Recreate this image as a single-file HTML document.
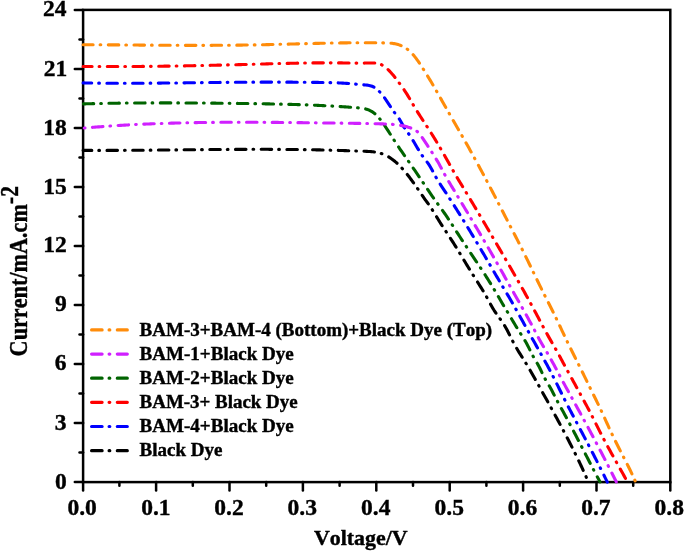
<!DOCTYPE html>
<html><head><meta charset="utf-8"><style>
html,body{margin:0;padding:0;background:#fff;}
body{width:685px;height:551px;position:relative;overflow:hidden;}
</style></head><body>
<svg width="685" height="551" viewBox="0 0 685 551" style="position:absolute;left:0;top:0"><g stroke="#000" stroke-width="2.5" fill="none"><rect x="83.1" y="9.9" width="587.20" height="472.20"/></g><g stroke="#000" stroke-width="2.5" fill="none" stroke-linecap="round"><line x1="74.80" y1="482.10" x2="83.1" y2="482.10"/><line x1="74.80" y1="423.08" x2="83.1" y2="423.08"/><line x1="74.80" y1="364.05" x2="83.1" y2="364.05"/><line x1="74.80" y1="305.02" x2="83.1" y2="305.02"/><line x1="74.80" y1="246.00" x2="83.1" y2="246.00"/><line x1="74.80" y1="186.97" x2="83.1" y2="186.97"/><line x1="74.80" y1="127.95" x2="83.1" y2="127.95"/><line x1="74.80" y1="68.93" x2="83.1" y2="68.93"/><line x1="74.80" y1="9.90" x2="83.1" y2="9.90"/><line x1="79.50" y1="452.59" x2="83.1" y2="452.59"/><line x1="79.50" y1="393.56" x2="83.1" y2="393.56"/><line x1="79.50" y1="334.54" x2="83.1" y2="334.54"/><line x1="79.50" y1="275.51" x2="83.1" y2="275.51"/><line x1="79.50" y1="216.49" x2="83.1" y2="216.49"/><line x1="79.50" y1="157.46" x2="83.1" y2="157.46"/><line x1="79.50" y1="98.44" x2="83.1" y2="98.44"/><line x1="79.50" y1="39.41" x2="83.1" y2="39.41"/><line x1="83.10" y1="482.1" x2="83.10" y2="490.40"/><line x1="156.10" y1="482.1" x2="156.10" y2="490.40"/><line x1="229.50" y1="482.1" x2="229.50" y2="490.40"/><line x1="302.90" y1="482.1" x2="302.90" y2="490.40"/><line x1="376.30" y1="482.1" x2="376.30" y2="490.40"/><line x1="449.70" y1="482.1" x2="449.70" y2="490.40"/><line x1="523.10" y1="482.1" x2="523.10" y2="490.40"/><line x1="596.50" y1="482.1" x2="596.50" y2="490.40"/><line x1="670.30" y1="482.1" x2="670.30" y2="490.40"/><line x1="119.40" y1="482.1" x2="119.40" y2="485.70"/><line x1="192.80" y1="482.1" x2="192.80" y2="485.70"/><line x1="266.20" y1="482.1" x2="266.20" y2="485.70"/><line x1="339.60" y1="482.1" x2="339.60" y2="485.70"/><line x1="413.00" y1="482.1" x2="413.00" y2="485.70"/><line x1="486.40" y1="482.1" x2="486.40" y2="485.70"/><line x1="559.80" y1="482.1" x2="559.80" y2="485.70"/><line x1="633.20" y1="482.1" x2="633.20" y2="485.70"/></g><g fill="none" stroke-width="3.1" stroke-linecap="round" stroke-linejoin="round" stroke-dasharray="10.5 7.0 0.7 7.5"><path stroke="#FF8C0A" stroke-dashoffset="0.5" d="M83.10,44.69 L84.10,44.69 L85.10,44.70 L86.10,44.70 L87.10,44.71 L88.10,44.71 L89.10,44.72 L90.10,44.73 L91.10,44.73 L92.10,44.74 L93.10,44.74 L94.10,44.75 L95.10,44.75 L96.10,44.76 L97.10,44.77 L98.10,44.77 L99.10,44.78 L100.10,44.79 L101.10,44.79 L102.10,44.80 L103.10,44.81 L104.10,44.81 L105.10,44.82 L106.10,44.83 L107.10,44.83 L108.10,44.84 L109.10,44.85 L110.10,44.86 L111.10,44.86 L112.10,44.87 L113.10,44.88 L114.10,44.89 L115.10,44.89 L116.10,44.90 L117.10,44.91 L118.10,44.92 L119.10,44.92 L120.10,44.93 L121.10,44.94 L122.10,44.95 L123.10,44.95 L124.10,44.96 L125.10,44.97 L126.10,44.98 L127.10,44.99 L128.10,44.99 L129.10,45.00 L130.10,45.01 L131.10,45.02 L132.10,45.02 L133.10,45.03 L134.10,45.04 L135.10,45.05 L136.10,45.06 L137.10,45.06 L138.10,45.07 L139.10,45.08 L140.10,45.09 L141.10,45.09 L142.10,45.10 L143.10,45.11 L144.10,45.12 L145.10,45.12 L146.10,45.13 L147.10,45.14 L148.10,45.14 L149.10,45.15 L150.10,45.16 L151.10,45.17 L152.10,45.17 L153.10,45.18 L154.10,45.19 L155.10,45.19 L156.10,45.20 L157.10,45.21 L158.10,45.21 L159.10,45.22 L160.10,45.22 L161.10,45.23 L162.10,45.24 L163.10,45.24 L164.10,45.25 L165.10,45.25 L166.10,45.26 L167.10,45.26 L168.10,45.27 L169.10,45.27 L170.10,45.28 L171.10,45.28 L172.10,45.29 L173.10,45.29 L174.10,45.30 L175.10,45.30 L176.10,45.31 L177.10,45.31 L178.10,45.31 L179.10,45.32 L180.10,45.32 L181.10,45.32 L182.10,45.33 L183.10,45.33 L184.10,45.33 L185.10,45.34 L186.10,45.34 L187.10,45.34 L188.10,45.34 L189.10,45.34 L190.10,45.35 L191.10,45.35 L192.10,45.35 L193.10,45.35 L194.10,45.35 L195.10,45.35 L196.10,45.35 L197.10,45.35 L198.10,45.35 L199.10,45.35 L200.10,45.35 L201.10,45.35 L202.10,45.35 L203.10,45.35 L204.10,45.35 L205.10,45.35 L206.10,45.34 L207.10,45.34 L208.10,45.34 L209.10,45.34 L210.10,45.33 L211.10,45.33 L212.10,45.33 L213.10,45.32 L214.10,45.32 L215.10,45.31 L216.10,45.31 L217.10,45.30 L218.10,45.30 L219.10,45.29 L220.10,45.29 L221.10,45.28 L222.10,45.28 L223.10,45.27 L224.10,45.26 L225.10,45.25 L226.10,45.25 L227.10,45.24 L228.10,45.23 L229.10,45.22 L230.10,45.21 L231.10,45.20 L232.10,45.19 L233.10,45.18 L234.10,45.17 L235.10,45.16 L236.10,45.15 L237.10,45.14 L238.10,45.13 L239.10,45.12 L240.10,45.11 L241.10,45.09 L242.10,45.08 L243.10,45.07 L244.10,45.05 L245.10,45.04 L246.10,45.02 L247.10,45.01 L248.10,44.99 L249.10,44.98 L250.10,44.96 L251.10,44.95 L252.10,44.93 L253.10,44.91 L254.10,44.89 L255.10,44.88 L256.10,44.86 L257.10,44.84 L258.10,44.82 L259.10,44.80 L260.10,44.78 L261.10,44.76 L262.10,44.74 L263.10,44.72 L264.10,44.70 L265.10,44.68 L266.10,44.65 L267.10,44.63 L268.10,44.61 L269.10,44.59 L270.10,44.56 L271.10,44.54 L272.10,44.52 L273.10,44.49 L274.10,44.47 L275.10,44.44 L276.10,44.42 L277.10,44.40 L278.10,44.37 L279.10,44.35 L280.10,44.32 L281.10,44.30 L282.10,44.27 L283.10,44.24 L284.10,44.22 L285.10,44.19 L286.10,44.17 L287.10,44.14 L288.10,44.12 L289.10,44.09 L290.10,44.06 L291.10,44.04 L292.10,44.01 L293.10,43.98 L294.10,43.96 L295.10,43.93 L296.10,43.91 L297.10,43.88 L298.10,43.85 L299.10,43.83 L300.10,43.80 L301.10,43.78 L302.10,43.75 L303.10,43.72 L304.10,43.70 L305.10,43.67 L306.10,43.65 L307.10,43.62 L308.10,43.60 L309.10,43.57 L310.10,43.55 L311.10,43.52 L312.10,43.50 L313.10,43.47 L314.10,43.45 L315.10,43.42 L316.10,43.40 L317.10,43.38 L318.10,43.35 L319.10,43.33 L320.10,43.31 L321.10,43.29 L322.10,43.26 L323.10,43.24 L324.10,43.22 L325.10,43.20 L326.10,43.18 L327.10,43.16 L328.10,43.14 L329.10,43.12 L330.10,43.10 L331.10,43.08 L332.10,43.06 L333.10,43.04 L334.10,43.02 L335.10,43.01 L336.10,42.99 L337.10,42.97 L338.10,42.96 L339.10,42.94 L340.10,42.92 L341.10,42.91 L342.10,42.90 L343.10,42.88 L344.10,42.87 L345.10,42.86 L346.10,42.84 L347.10,42.83 L348.10,42.82 L349.10,42.81 L350.10,42.80 L351.10,42.79 L352.10,42.78 L353.10,42.77 L354.10,42.77 L355.10,42.76 L356.10,42.75 L357.10,42.75 L358.10,42.74 L359.10,42.74 L360.10,42.73 L361.10,42.73 L362.10,42.73 L363.10,42.73 L364.10,42.73 L365.10,42.73 L366.10,42.73 L367.10,42.73 L368.10,42.73 L369.10,42.73 L370.10,42.74 L371.10,42.74 L372.10,42.75 L373.10,42.75 L374.10,42.76 L375.10,42.77 L376.10,42.78 L377.10,42.79 L378.10,42.80 L379.10,42.81 L380.10,42.82 L381.10,42.83 L382.10,42.85 L383.10,42.86 L384.10,42.88 L385.10,42.90 L386.10,42.92 L387.10,42.96 L388.10,43.00 L389.10,43.06 L390.10,43.13 L391.10,43.22 L392.10,43.33 L393.10,43.46 L394.10,43.62 L395.10,43.81 L396.10,44.02 L397.10,44.27 L398.10,44.55 L399.10,44.88 L400.10,45.24 L401.10,45.64 L402.10,46.09 L403.10,46.59 L404.10,47.13 L405.10,47.73 L406.10,48.38 L407.10,49.09 L408.10,49.86 L409.10,50.70 L410.10,51.59 L411.10,52.56 L412.10,53.59 L413.10,54.69 L414.10,55.87 L415.10,57.12 L416.10,58.42 L417.10,59.79 L418.10,61.20 L419.10,62.65 L420.10,64.15 L421.10,65.67 L422.10,67.22 L423.10,68.79 L424.10,70.37 L425.10,71.97 L426.10,73.58 L427.10,75.20 L428.10,76.83 L429.10,78.48 L430.10,80.14 L431.10,81.82 L432.10,83.50 L433.10,85.20 L434.10,86.91 L435.10,88.63 L436.10,90.36 L437.10,92.10 L438.10,93.85 L439.10,95.60 L440.10,97.36 L441.10,99.13 L442.10,100.90 L443.10,102.67 L444.10,104.44 L445.10,106.21 L446.10,107.98 L447.10,109.74 L448.10,111.51 L449.10,113.27 L450.10,115.02 L451.10,116.77 L452.10,118.51 L453.10,120.26 L454.10,122.00 L455.10,123.74 L456.10,125.48 L457.10,127.21 L458.10,128.95 L459.10,130.70 L460.10,132.44 L461.10,134.19 L462.10,135.94 L463.10,137.70 L464.10,139.47 L465.10,141.24 L466.10,143.01 L467.10,144.79 L468.10,146.57 L469.10,148.36 L470.10,150.16 L471.10,151.96 L472.10,153.77 L473.10,155.58 L474.10,157.40 L475.10,159.22 L476.10,161.05 L477.10,162.88 L478.10,164.72 L479.10,166.56 L480.10,168.41 L481.10,170.27 L482.10,172.13 L483.10,174.00 L484.10,175.87 L485.10,177.75 L486.10,179.63 L487.10,181.52 L488.10,183.42 L489.10,185.32 L490.10,187.22 L491.10,189.13 L492.10,191.05 L493.10,192.97 L494.10,194.89 L495.10,196.81 L496.10,198.74 L497.10,200.67 L498.10,202.61 L499.10,204.54 L500.10,206.48 L501.10,208.42 L502.10,210.36 L503.10,212.30 L504.10,214.24 L505.10,216.18 L506.10,218.12 L507.10,220.06 L508.10,221.99 L509.10,223.93 L510.10,225.86 L511.10,227.80 L512.10,229.73 L513.10,231.66 L514.10,233.59 L515.10,235.53 L516.10,237.47 L517.10,239.41 L518.10,241.36 L519.10,243.32 L520.10,245.28 L521.10,247.26 L522.10,249.25 L523.10,251.25 L524.10,253.26 L525.10,255.28 L526.10,257.32 L527.10,259.36 L528.10,261.40 L529.10,263.46 L530.10,265.52 L531.10,267.58 L532.10,269.64 L533.10,271.71 L534.10,273.77 L535.10,275.84 L536.10,277.90 L537.10,279.96 L538.10,282.01 L539.10,284.06 L540.10,286.10 L541.10,288.13 L542.10,290.15 L543.10,292.17 L544.10,294.17 L545.10,296.15 L546.10,298.13 L547.10,300.10 L548.10,302.06 L549.10,304.03 L550.10,306.00 L551.10,307.97 L552.10,309.95 L553.10,311.95 L554.10,313.97 L555.10,316.01 L556.10,318.07 L557.10,320.16 L558.10,322.27 L559.10,324.39 L560.10,326.53 L561.10,328.66 L562.10,330.79 L563.10,332.91 L564.10,335.01 L565.10,337.10 L566.10,339.18 L567.10,341.25 L568.10,343.32 L569.10,345.37 L570.10,347.41 L571.10,349.44 L572.10,351.46 L573.10,353.48 L574.10,355.49 L575.10,357.49 L576.10,359.49 L577.10,361.49 L578.10,363.49 L579.10,365.49 L580.10,367.49 L581.10,369.50 L582.10,371.52 L583.10,373.55 L584.10,375.58 L585.10,377.63 L586.10,379.69 L587.10,381.75 L588.10,383.82 L589.10,385.87 L590.10,387.91 L591.10,389.94 L592.10,391.96 L593.10,393.97 L594.10,395.99 L595.10,398.00 L596.10,400.03 L597.10,402.07 L598.10,404.13 L599.10,406.20 L600.10,408.29 L601.10,410.41 L602.10,412.56 L603.10,414.72 L604.10,416.91 L605.10,419.10 L606.10,421.31 L607.10,423.51 L608.10,425.70 L609.10,427.89 L610.10,430.06 L611.10,432.20 L612.10,434.32 L613.10,436.41 L614.10,438.47 L615.10,440.50 L616.10,442.51 L617.10,444.51 L618.10,446.49 L619.10,448.45 L620.10,450.41 L621.10,452.35 L622.10,454.29 L623.10,456.23 L624.10,458.16 L625.10,460.10 L626.10,462.04 L627.10,464.00 L628.10,465.97 L629.10,467.97 L630.10,469.99 L631.10,472.06 L632.10,474.16 L633.10,476.30 L634.10,478.50 L635.10,480.76 L635.60,481.91"/><path stroke="#FF0000" stroke-dashoffset="1.5" d="M83.10,66.43 L84.10,66.44 L85.10,66.45 L86.10,66.46 L87.10,66.47 L88.10,66.47 L89.10,66.48 L90.10,66.49 L91.10,66.49 L92.10,66.50 L93.10,66.51 L94.10,66.51 L95.10,66.52 L96.10,66.52 L97.10,66.53 L98.10,66.53 L99.10,66.54 L100.10,66.54 L101.10,66.54 L102.10,66.55 L103.10,66.55 L104.10,66.55 L105.10,66.55 L106.10,66.55 L107.10,66.56 L108.10,66.56 L109.10,66.56 L110.10,66.56 L111.10,66.56 L112.10,66.56 L113.10,66.56 L114.10,66.56 L115.10,66.56 L116.10,66.56 L117.10,66.55 L118.10,66.55 L119.10,66.55 L120.10,66.55 L121.10,66.54 L122.10,66.54 L123.10,66.54 L124.10,66.53 L125.10,66.53 L126.10,66.53 L127.10,66.52 L128.10,66.52 L129.10,66.51 L130.10,66.51 L131.10,66.50 L132.10,66.50 L133.10,66.49 L134.10,66.48 L135.10,66.48 L136.10,66.47 L137.10,66.46 L138.10,66.46 L139.10,66.45 L140.10,66.44 L141.10,66.43 L142.10,66.42 L143.10,66.41 L144.10,66.40 L145.10,66.40 L146.10,66.39 L147.10,66.38 L148.10,66.37 L149.10,66.36 L150.10,66.35 L151.10,66.34 L152.10,66.32 L153.10,66.31 L154.10,66.30 L155.10,66.29 L156.10,66.28 L157.10,66.27 L158.10,66.25 L159.10,66.24 L160.10,66.23 L161.10,66.21 L162.10,66.20 L163.10,66.19 L164.10,66.17 L165.10,66.16 L166.10,66.15 L167.10,66.13 L168.10,66.12 L169.10,66.10 L170.10,66.09 L171.10,66.07 L172.10,66.06 L173.10,66.04 L174.10,66.03 L175.10,66.01 L176.10,65.99 L177.10,65.98 L178.10,65.96 L179.10,65.94 L180.10,65.93 L181.10,65.91 L182.10,65.89 L183.10,65.87 L184.10,65.86 L185.10,65.84 L186.10,65.82 L187.10,65.80 L188.10,65.78 L189.10,65.76 L190.10,65.74 L191.10,65.73 L192.10,65.71 L193.10,65.69 L194.10,65.67 L195.10,65.65 L196.10,65.63 L197.10,65.61 L198.10,65.59 L199.10,65.57 L200.10,65.55 L201.10,65.52 L202.10,65.50 L203.10,65.48 L204.10,65.46 L205.10,65.44 L206.10,65.42 L207.10,65.40 L208.10,65.37 L209.10,65.35 L210.10,65.33 L211.10,65.31 L212.10,65.29 L213.10,65.26 L214.10,65.24 L215.10,65.22 L216.10,65.19 L217.10,65.17 L218.10,65.15 L219.10,65.12 L220.10,65.10 L221.10,65.08 L222.10,65.05 L223.10,65.03 L224.10,65.01 L225.10,64.98 L226.10,64.96 L227.10,64.93 L228.10,64.91 L229.10,64.88 L230.10,64.86 L231.10,64.83 L232.10,64.81 L233.10,64.78 L234.10,64.76 L235.10,64.73 L236.10,64.71 L237.10,64.68 L238.10,64.66 L239.10,64.63 L240.10,64.60 L241.10,64.58 L242.10,64.55 L243.10,64.53 L244.10,64.50 L245.10,64.47 L246.10,64.45 L247.10,64.42 L248.10,64.39 L249.10,64.37 L250.10,64.34 L251.10,64.31 L252.10,64.29 L253.10,64.26 L254.10,64.23 L255.10,64.20 L256.10,64.18 L257.10,64.15 L258.10,64.12 L259.10,64.10 L260.10,64.07 L261.10,64.04 L262.10,64.01 L263.10,63.99 L264.10,63.96 L265.10,63.93 L266.10,63.91 L267.10,63.88 L268.10,63.85 L269.10,63.82 L270.10,63.80 L271.10,63.77 L272.10,63.74 L273.10,63.72 L274.10,63.69 L275.10,63.67 L276.10,63.64 L277.10,63.61 L278.10,63.59 L279.10,63.56 L280.10,63.54 L281.10,63.51 L282.10,63.49 L283.10,63.47 L284.10,63.44 L285.10,63.42 L286.10,63.39 L287.10,63.37 L288.10,63.35 L289.10,63.33 L290.10,63.30 L291.10,63.28 L292.10,63.26 L293.10,63.24 L294.10,63.22 L295.10,63.20 L296.10,63.18 L297.10,63.16 L298.10,63.14 L299.10,63.12 L300.10,63.11 L301.10,63.09 L302.10,63.07 L303.10,63.05 L304.10,63.04 L305.10,63.02 L306.10,63.01 L307.10,62.99 L308.10,62.98 L309.10,62.97 L310.10,62.95 L311.10,62.94 L312.10,62.93 L313.10,62.92 L314.10,62.91 L315.10,62.90 L316.10,62.89 L317.10,62.88 L318.10,62.87 L319.10,62.87 L320.10,62.86 L321.10,62.85 L322.10,62.85 L323.10,62.84 L324.10,62.84 L325.10,62.84 L326.10,62.84 L327.10,62.84 L328.10,62.83 L329.10,62.84 L330.10,62.84 L331.10,62.84 L332.10,62.84 L333.10,62.84 L334.10,62.85 L335.10,62.85 L336.10,62.86 L337.10,62.87 L338.10,62.88 L339.10,62.89 L340.10,62.90 L341.10,62.91 L342.10,62.92 L343.10,62.93 L344.10,62.94 L345.10,62.96 L346.10,62.97 L347.10,62.98 L348.10,63.00 L349.10,63.01 L350.10,63.02 L351.10,63.03 L352.10,63.04 L353.10,63.05 L354.10,63.06 L355.10,63.07 L356.10,63.08 L357.10,63.09 L358.10,63.09 L359.10,63.09 L360.10,63.09 L361.10,63.09 L362.10,63.09 L363.10,63.09 L364.10,63.08 L365.10,63.07 L366.10,63.05 L367.10,63.04 L368.10,63.02 L369.10,63.00 L370.10,62.97 L371.10,62.95 L372.10,62.94 L373.10,62.95 L374.10,62.98 L375.10,63.05 L376.10,63.16 L377.10,63.31 L378.10,63.51 L379.10,63.78 L380.10,64.12 L381.10,64.54 L382.10,65.03 L383.10,65.61 L384.10,66.27 L385.10,67.01 L386.10,67.82 L387.10,68.69 L388.10,69.63 L389.10,70.62 L390.10,71.67 L391.10,72.77 L392.10,73.91 L393.10,75.10 L394.10,76.32 L395.10,77.57 L396.10,78.85 L397.10,80.16 L398.10,81.48 L399.10,82.82 L400.10,84.17 L401.10,85.54 L402.10,86.92 L403.10,88.34 L404.10,89.79 L405.10,91.29 L406.10,92.83 L407.10,94.43 L408.10,96.08 L409.10,97.77 L410.10,99.49 L411.10,101.22 L412.10,102.94 L413.10,104.65 L414.10,106.33 L415.10,107.99 L416.10,109.62 L417.10,111.24 L418.10,112.83 L419.10,114.41 L420.10,115.98 L421.10,117.53 L422.10,119.08 L423.10,120.62 L424.10,122.15 L425.10,123.68 L426.10,125.21 L427.10,126.75 L428.10,128.29 L429.10,129.83 L430.10,131.39 L431.10,132.95 L432.10,134.54 L433.10,136.13 L434.10,137.75 L435.10,139.38 L436.10,141.03 L437.10,142.69 L438.10,144.37 L439.10,146.06 L440.10,147.76 L441.10,149.48 L442.10,151.20 L443.10,152.94 L444.10,154.68 L445.10,156.43 L446.10,158.19 L447.10,159.96 L448.10,161.73 L449.10,163.51 L450.10,165.29 L451.10,167.06 L452.10,168.84 L453.10,170.60 L454.10,172.35 L455.10,174.09 L456.10,175.82 L457.10,177.52 L458.10,179.20 L459.10,180.87 L460.10,182.52 L461.10,184.16 L462.10,185.80 L463.10,187.45 L464.10,189.09 L465.10,190.73 L466.10,192.38 L467.10,194.03 L468.10,195.69 L469.10,197.35 L470.10,199.01 L471.10,200.68 L472.10,202.35 L473.10,204.02 L474.10,205.70 L475.10,207.38 L476.10,209.07 L477.10,210.75 L478.10,212.44 L479.10,214.13 L480.10,215.82 L481.10,217.52 L482.10,219.21 L483.10,220.91 L484.10,222.61 L485.10,224.31 L486.10,226.01 L487.10,227.71 L488.10,229.41 L489.10,231.12 L490.10,232.82 L491.10,234.52 L492.10,236.23 L493.10,237.93 L494.10,239.63 L495.10,241.33 L496.10,243.04 L497.10,244.74 L498.10,246.44 L499.10,248.15 L500.10,249.86 L501.10,251.56 L502.10,253.27 L503.10,254.98 L504.10,256.69 L505.10,258.40 L506.10,260.12 L507.10,261.84 L508.10,263.56 L509.10,265.28 L510.10,267.01 L511.10,268.74 L512.10,270.47 L513.10,272.21 L514.10,273.94 L515.10,275.69 L516.10,277.44 L517.10,279.19 L518.10,280.94 L519.10,282.71 L520.10,284.47 L521.10,286.24 L522.10,288.02 L523.10,289.80 L524.10,291.59 L525.10,293.38 L526.10,295.18 L527.10,296.99 L528.10,298.80 L529.10,300.62 L530.10,302.44 L531.10,304.28 L532.10,306.12 L533.10,307.96 L534.10,309.82 L535.10,311.68 L536.10,313.55 L537.10,315.43 L538.10,317.32 L539.10,319.20 L540.10,321.09 L541.10,322.98 L542.10,324.86 L543.10,326.73 L544.10,328.59 L545.10,330.44 L546.10,332.27 L547.10,334.09 L548.10,335.88 L549.10,337.64 L550.10,339.38 L551.10,341.11 L552.10,342.82 L553.10,344.53 L554.10,346.26 L555.10,348.00 L556.10,349.77 L557.10,351.56 L558.10,353.39 L559.10,355.23 L560.10,357.08 L561.10,358.94 L562.10,360.80 L563.10,362.65 L564.10,364.49 L565.10,366.33 L566.10,368.17 L567.10,370.00 L568.10,371.83 L569.10,373.65 L570.10,375.48 L571.10,377.30 L572.10,379.12 L573.10,380.93 L574.10,382.75 L575.10,384.57 L576.10,386.39 L577.10,388.21 L578.10,390.04 L579.10,391.86 L580.10,393.69 L581.10,395.52 L582.10,397.36 L583.10,399.20 L584.10,401.05 L585.10,402.90 L586.10,404.76 L587.10,406.62 L588.10,408.50 L589.10,410.39 L590.10,412.29 L591.10,414.21 L592.10,416.15 L593.10,418.12 L594.10,420.10 L595.10,422.11 L596.10,424.12 L597.10,426.13 L598.10,428.14 L599.10,430.12 L600.10,432.09 L601.10,434.03 L602.10,435.96 L603.10,437.87 L604.10,439.77 L605.10,441.65 L606.10,443.51 L607.10,445.36 L608.10,447.20 L609.10,449.03 L610.10,450.85 L611.10,452.67 L612.10,454.47 L613.10,456.27 L614.10,458.07 L615.10,459.86 L616.10,461.64 L617.10,463.42 L618.10,465.20 L619.10,466.98 L620.10,468.76 L621.10,470.53 L622.10,472.31 L623.10,474.09 L624.10,475.87 L625.10,477.65 L626.10,479.44 L627.10,481.23 L627.50,481.95"/><path stroke="#0000FF" stroke-dashoffset="1.9" d="M83.10,82.91 L84.10,82.92 L85.10,82.94 L86.10,82.96 L87.10,82.98 L88.10,82.99 L89.10,83.01 L90.10,83.02 L91.10,83.04 L92.10,83.05 L93.10,83.06 L94.10,83.08 L95.10,83.09 L96.10,83.10 L97.10,83.11 L98.10,83.12 L99.10,83.13 L100.10,83.14 L101.10,83.15 L102.10,83.16 L103.10,83.17 L104.10,83.18 L105.10,83.19 L106.10,83.20 L107.10,83.20 L108.10,83.21 L109.10,83.21 L110.10,83.22 L111.10,83.23 L112.10,83.23 L113.10,83.24 L114.10,83.24 L115.10,83.24 L116.10,83.25 L117.10,83.25 L118.10,83.25 L119.10,83.25 L120.10,83.26 L121.10,83.26 L122.10,83.26 L123.10,83.26 L124.10,83.26 L125.10,83.26 L126.10,83.26 L127.10,83.26 L128.10,83.26 L129.10,83.26 L130.10,83.26 L131.10,83.26 L132.10,83.25 L133.10,83.25 L134.10,83.25 L135.10,83.25 L136.10,83.24 L137.10,83.24 L138.10,83.23 L139.10,83.23 L140.10,83.23 L141.10,83.22 L142.10,83.22 L143.10,83.21 L144.10,83.21 L145.10,83.20 L146.10,83.19 L147.10,83.19 L148.10,83.18 L149.10,83.18 L150.10,83.17 L151.10,83.16 L152.10,83.15 L153.10,83.15 L154.10,83.14 L155.10,83.13 L156.10,83.12 L157.10,83.12 L158.10,83.11 L159.10,83.10 L160.10,83.09 L161.10,83.08 L162.10,83.07 L163.10,83.06 L164.10,83.05 L165.10,83.04 L166.10,83.03 L167.10,83.02 L168.10,83.01 L169.10,83.00 L170.10,82.99 L171.10,82.98 L172.10,82.97 L173.10,82.96 L174.10,82.95 L175.10,82.94 L176.10,82.93 L177.10,82.92 L178.10,82.91 L179.10,82.90 L180.10,82.89 L181.10,82.87 L182.10,82.86 L183.10,82.85 L184.10,82.84 L185.10,82.83 L186.10,82.82 L187.10,82.80 L188.10,82.79 L189.10,82.78 L190.10,82.77 L191.10,82.76 L192.10,82.75 L193.10,82.73 L194.10,82.72 L195.10,82.71 L196.10,82.70 L197.10,82.69 L198.10,82.67 L199.10,82.66 L200.10,82.65 L201.10,82.64 L202.10,82.63 L203.10,82.61 L204.10,82.60 L205.10,82.59 L206.10,82.58 L207.10,82.57 L208.10,82.56 L209.10,82.54 L210.10,82.53 L211.10,82.52 L212.10,82.51 L213.10,82.50 L214.10,82.49 L215.10,82.48 L216.10,82.47 L217.10,82.45 L218.10,82.44 L219.10,82.43 L220.10,82.42 L221.10,82.41 L222.10,82.40 L223.10,82.39 L224.10,82.38 L225.10,82.37 L226.10,82.36 L227.10,82.35 L228.10,82.34 L229.10,82.33 L230.10,82.32 L231.10,82.31 L232.10,82.31 L233.10,82.30 L234.10,82.29 L235.10,82.28 L236.10,82.27 L237.10,82.26 L238.10,82.26 L239.10,82.25 L240.10,82.24 L241.10,82.23 L242.10,82.23 L243.10,82.22 L244.10,82.21 L245.10,82.21 L246.10,82.20 L247.10,82.19 L248.10,82.19 L249.10,82.18 L250.10,82.18 L251.10,82.17 L252.10,82.17 L253.10,82.16 L254.10,82.16 L255.10,82.15 L256.10,82.15 L257.10,82.15 L258.10,82.14 L259.10,82.14 L260.10,82.14 L261.10,82.13 L262.10,82.13 L263.10,82.13 L264.10,82.13 L265.10,82.12 L266.10,82.12 L267.10,82.12 L268.10,82.12 L269.10,82.12 L270.10,82.12 L271.10,82.12 L272.10,82.12 L273.10,82.12 L274.10,82.12 L275.10,82.12 L276.10,82.12 L277.10,82.12 L278.10,82.12 L279.10,82.12 L280.10,82.13 L281.10,82.13 L282.10,82.13 L283.10,82.13 L284.10,82.14 L285.10,82.14 L286.10,82.14 L287.10,82.15 L288.10,82.15 L289.10,82.16 L290.10,82.16 L291.10,82.17 L292.10,82.17 L293.10,82.18 L294.10,82.18 L295.10,82.19 L296.10,82.19 L297.10,82.20 L298.10,82.21 L299.10,82.22 L300.10,82.22 L301.10,82.23 L302.10,82.24 L303.10,82.25 L304.10,82.26 L305.10,82.27 L306.10,82.28 L307.10,82.29 L308.10,82.30 L309.10,82.31 L310.10,82.32 L311.10,82.33 L312.10,82.34 L313.10,82.35 L314.10,82.36 L315.10,82.38 L316.10,82.39 L317.10,82.40 L318.10,82.41 L319.10,82.43 L320.10,82.44 L321.10,82.46 L322.10,82.47 L323.10,82.49 L324.10,82.51 L325.10,82.53 L326.10,82.55 L327.10,82.57 L328.10,82.59 L329.10,82.61 L330.10,82.64 L331.10,82.67 L332.10,82.70 L333.10,82.73 L334.10,82.76 L335.10,82.79 L336.10,82.83 L337.10,82.87 L338.10,82.91 L339.10,82.95 L340.10,83.00 L341.10,83.05 L342.10,83.10 L343.10,83.15 L344.10,83.21 L345.10,83.27 L346.10,83.33 L347.10,83.40 L348.10,83.47 L349.10,83.54 L350.10,83.61 L351.10,83.69 L352.10,83.78 L353.10,83.86 L354.10,83.95 L355.10,84.05 L356.10,84.15 L357.10,84.25 L358.10,84.35 L359.10,84.45 L360.10,84.55 L361.10,84.64 L362.10,84.73 L363.10,84.81 L364.10,84.88 L365.10,84.95 L366.10,85.03 L367.10,85.13 L368.10,85.26 L369.10,85.43 L370.10,85.65 L371.10,85.93 L372.10,86.29 L373.10,86.73 L374.10,87.26 L375.10,87.88 L376.10,88.59 L377.10,89.39 L378.10,90.27 L379.10,91.23 L380.10,92.27 L381.10,93.39 L382.10,94.58 L383.10,95.85 L384.10,97.18 L385.10,98.58 L386.10,100.04 L387.10,101.54 L388.10,103.07 L389.10,104.61 L390.10,106.16 L391.10,107.69 L392.10,109.19 L393.10,110.64 L394.10,112.04 L395.10,113.37 L396.10,114.64 L397.10,115.91 L398.10,117.24 L399.10,118.67 L400.10,120.27 L401.10,122.02 L402.10,123.84 L403.10,125.65 L404.10,127.37 L405.10,128.92 L406.10,130.35 L407.10,131.70 L408.10,133.03 L409.10,134.40 L410.10,135.85 L411.10,137.37 L412.10,138.97 L413.10,140.61 L414.10,142.29 L415.10,144.00 L416.10,145.72 L417.10,147.43 L418.10,149.12 L419.10,150.78 L420.10,152.39 L421.10,153.95 L422.10,155.43 L423.10,156.82 L424.10,158.14 L425.10,159.42 L426.10,160.69 L427.10,162.00 L428.10,163.39 L429.10,164.88 L430.10,166.50 L431.10,168.24 L432.10,170.05 L433.10,171.91 L434.10,173.78 L435.10,175.63 L436.10,177.44 L437.10,179.17 L438.10,180.84 L439.10,182.44 L440.10,184.00 L441.10,185.53 L442.10,187.04 L443.10,188.54 L444.10,190.05 L445.10,191.57 L446.10,193.09 L447.10,194.61 L448.10,196.15 L449.10,197.69 L450.10,199.23 L451.10,200.79 L452.10,202.34 L453.10,203.91 L454.10,205.48 L455.10,207.05 L456.10,208.64 L457.10,210.22 L458.10,211.81 L459.10,213.41 L460.10,215.01 L461.10,216.62 L462.10,218.23 L463.10,219.85 L464.10,221.47 L465.10,223.10 L466.10,224.73 L467.10,226.37 L468.10,228.01 L469.10,229.66 L470.10,231.31 L471.10,232.96 L472.10,234.62 L473.10,236.28 L474.10,237.95 L475.10,239.62 L476.10,241.30 L477.10,242.97 L478.10,244.65 L479.10,246.34 L480.10,248.03 L481.10,249.72 L482.10,251.42 L483.10,253.11 L484.10,254.82 L485.10,256.52 L486.10,258.23 L487.10,259.94 L488.10,261.65 L489.10,263.37 L490.10,265.08 L491.10,266.80 L492.10,268.53 L493.10,270.25 L494.10,271.97 L495.10,273.69 L496.10,275.41 L497.10,277.13 L498.10,278.84 L499.10,280.55 L500.10,282.25 L501.10,283.95 L502.10,285.63 L503.10,287.31 L504.10,288.98 L505.10,290.65 L506.10,292.31 L507.10,293.97 L508.10,295.64 L509.10,297.31 L510.10,299.00 L511.10,300.71 L512.10,302.44 L513.10,304.18 L514.10,305.93 L515.10,307.70 L516.10,309.48 L517.10,311.26 L518.10,313.06 L519.10,314.86 L520.10,316.67 L521.10,318.48 L522.10,320.29 L523.10,322.11 L524.10,323.93 L525.10,325.74 L526.10,327.55 L527.10,329.36 L528.10,331.16 L529.10,332.95 L530.10,334.74 L531.10,336.52 L532.10,338.29 L533.10,340.07 L534.10,341.83 L535.10,343.60 L536.10,345.37 L537.10,347.14 L538.10,348.91 L539.10,350.68 L540.10,352.45 L541.10,354.24 L542.10,356.03 L543.10,357.82 L544.10,359.63 L545.10,361.44 L546.10,363.27 L547.10,365.11 L548.10,366.96 L549.10,368.83 L550.10,370.72 L551.10,372.62 L552.10,374.54 L553.10,376.48 L554.10,378.44 L555.10,380.41 L556.10,382.41 L557.10,384.41 L558.10,386.43 L559.10,388.45 L560.10,390.47 L561.10,392.49 L562.10,394.51 L563.10,396.51 L564.10,398.50 L565.10,400.48 L566.10,402.44 L567.10,404.38 L568.10,406.31 L569.10,408.23 L570.10,410.13 L571.10,412.04 L572.10,413.93 L573.10,415.83 L574.10,417.72 L575.10,419.61 L576.10,421.50 L577.10,423.39 L578.10,425.28 L579.10,427.17 L580.10,429.06 L581.10,430.95 L582.10,432.84 L583.10,434.73 L584.10,436.62 L585.10,438.52 L586.10,440.42 L587.10,442.32 L588.10,444.23 L589.10,446.14 L590.10,448.05 L591.10,449.97 L592.10,451.90 L593.10,453.83 L594.10,455.76 L595.10,457.70 L596.10,459.65 L597.10,461.61 L598.10,463.58 L599.10,465.55 L600.10,467.53 L601.10,469.52 L602.10,471.52 L603.10,473.54 L604.10,475.56 L605.10,477.59 L606.10,479.63 L607.10,481.69 L607.30,482.10"/><path stroke="#006400" stroke-dashoffset="0.3" d="M83.50,103.88 L84.50,103.85 L85.50,103.83 L86.50,103.80 L87.50,103.77 L88.50,103.75 L89.50,103.72 L90.50,103.70 L91.50,103.68 L92.50,103.65 L93.50,103.63 L94.50,103.61 L95.50,103.58 L96.50,103.56 L97.50,103.54 L98.50,103.52 L99.50,103.50 L100.50,103.48 L101.50,103.46 L102.50,103.44 L103.50,103.42 L104.50,103.40 L105.50,103.38 L106.50,103.36 L107.50,103.34 L108.50,103.33 L109.50,103.31 L110.50,103.29 L111.50,103.28 L112.50,103.26 L113.50,103.24 L114.50,103.23 L115.50,103.21 L116.50,103.20 L117.50,103.18 L118.50,103.17 L119.50,103.16 L120.50,103.14 L121.50,103.13 L122.50,103.12 L123.50,103.11 L124.50,103.09 L125.50,103.08 L126.50,103.07 L127.50,103.06 L128.50,103.05 L129.50,103.04 L130.50,103.03 L131.50,103.02 L132.50,103.01 L133.50,103.00 L134.50,103.00 L135.50,102.99 L136.50,102.98 L137.50,102.97 L138.50,102.96 L139.50,102.96 L140.50,102.95 L141.50,102.94 L142.50,102.94 L143.50,102.93 L144.50,102.93 L145.50,102.92 L146.50,102.92 L147.50,102.91 L148.50,102.91 L149.50,102.90 L150.50,102.90 L151.50,102.90 L152.50,102.89 L153.50,102.89 L154.50,102.89 L155.50,102.89 L156.50,102.88 L157.50,102.88 L158.50,102.88 L159.50,102.88 L160.50,102.88 L161.50,102.88 L162.50,102.88 L163.50,102.88 L164.50,102.88 L165.50,102.88 L166.50,102.88 L167.50,102.88 L168.50,102.88 L169.50,102.88 L170.50,102.88 L171.50,102.89 L172.50,102.89 L173.50,102.89 L174.50,102.89 L175.50,102.89 L176.50,102.90 L177.50,102.90 L178.50,102.90 L179.50,102.91 L180.50,102.91 L181.50,102.92 L182.50,102.92 L183.50,102.92 L184.50,102.93 L185.50,102.93 L186.50,102.94 L187.50,102.94 L188.50,102.95 L189.50,102.96 L190.50,102.96 L191.50,102.97 L192.50,102.97 L193.50,102.98 L194.50,102.99 L195.50,102.99 L196.50,103.00 L197.50,103.01 L198.50,103.02 L199.50,103.02 L200.50,103.03 L201.50,103.04 L202.50,103.05 L203.50,103.06 L204.50,103.06 L205.50,103.07 L206.50,103.08 L207.50,103.09 L208.50,103.10 L209.50,103.11 L210.50,103.12 L211.50,103.13 L212.50,103.14 L213.50,103.15 L214.50,103.16 L215.50,103.17 L216.50,103.18 L217.50,103.19 L218.50,103.20 L219.50,103.21 L220.50,103.22 L221.50,103.23 L222.50,103.24 L223.50,103.25 L224.50,103.27 L225.50,103.28 L226.50,103.29 L227.50,103.30 L228.50,103.31 L229.50,103.32 L230.50,103.34 L231.50,103.35 L232.50,103.36 L233.50,103.37 L234.50,103.39 L235.50,103.40 L236.50,103.41 L237.50,103.42 L238.50,103.44 L239.50,103.45 L240.50,103.46 L241.50,103.48 L242.50,103.49 L243.50,103.50 L244.50,103.52 L245.50,103.53 L246.50,103.54 L247.50,103.56 L248.50,103.57 L249.50,103.59 L250.50,103.60 L251.50,103.62 L252.50,103.63 L253.50,103.64 L254.50,103.66 L255.50,103.67 L256.50,103.69 L257.50,103.71 L258.50,103.72 L259.50,103.74 L260.50,103.75 L261.50,103.77 L262.50,103.79 L263.50,103.80 L264.50,103.82 L265.50,103.84 L266.50,103.86 L267.50,103.87 L268.50,103.89 L269.50,103.91 L270.50,103.93 L271.50,103.95 L272.50,103.97 L273.50,103.99 L274.50,104.01 L275.50,104.03 L276.50,104.05 L277.50,104.07 L278.50,104.10 L279.50,104.12 L280.50,104.14 L281.50,104.16 L282.50,104.19 L283.50,104.21 L284.50,104.24 L285.50,104.26 L286.50,104.29 L287.50,104.31 L288.50,104.34 L289.50,104.37 L290.50,104.39 L291.50,104.42 L292.50,104.45 L293.50,104.48 L294.50,104.51 L295.50,104.54 L296.50,104.57 L297.50,104.60 L298.50,104.63 L299.50,104.66 L300.50,104.70 L301.50,104.73 L302.50,104.76 L303.50,104.80 L304.50,104.83 L305.50,104.87 L306.50,104.90 L307.50,104.94 L308.50,104.98 L309.50,105.02 L310.50,105.06 L311.50,105.10 L312.50,105.14 L313.50,105.18 L314.50,105.22 L315.50,105.26 L316.50,105.30 L317.50,105.35 L318.50,105.39 L319.50,105.44 L320.50,105.48 L321.50,105.53 L322.50,105.58 L323.50,105.63 L324.50,105.68 L325.50,105.73 L326.50,105.78 L327.50,105.83 L328.50,105.88 L329.50,105.93 L330.50,105.99 L331.50,106.04 L332.50,106.10 L333.50,106.16 L334.50,106.21 L335.50,106.27 L336.50,106.33 L337.50,106.39 L338.50,106.45 L339.50,106.51 L340.50,106.58 L341.50,106.64 L342.50,106.71 L343.50,106.77 L344.50,106.84 L345.50,106.91 L346.50,106.97 L347.50,107.04 L348.50,107.11 L349.50,107.19 L350.50,107.26 L351.50,107.33 L352.50,107.41 L353.50,107.48 L354.50,107.56 L355.50,107.64 L356.50,107.72 L357.50,107.80 L358.50,107.88 L359.50,107.97 L360.50,108.06 L361.50,108.18 L362.50,108.32 L363.50,108.48 L364.50,108.67 L365.50,108.90 L366.50,109.17 L367.50,109.49 L368.50,109.86 L369.50,110.28 L370.50,110.77 L371.50,111.32 L372.50,111.94 L373.50,112.64 L374.50,113.42 L375.50,114.28 L376.50,115.24 L377.50,116.27 L378.50,117.37 L379.50,118.55 L380.50,119.79 L381.50,121.09 L382.50,122.45 L383.50,123.85 L384.50,125.30 L385.50,126.78 L386.50,128.29 L387.50,129.83 L388.50,131.39 L389.50,132.96 L390.50,134.54 L391.50,136.12 L392.50,137.70 L393.50,139.26 L394.50,140.81 L395.50,142.34 L396.50,143.85 L397.50,145.34 L398.50,146.83 L399.50,148.30 L400.50,149.77 L401.50,151.23 L402.50,152.68 L403.50,154.13 L404.50,155.58 L405.50,157.02 L406.50,158.46 L407.50,159.90 L408.50,161.33 L409.50,162.77 L410.50,164.20 L411.50,165.64 L412.50,167.08 L413.50,168.53 L414.50,169.97 L415.50,171.43 L416.50,172.88 L417.50,174.35 L418.50,175.82 L419.50,177.30 L420.50,178.78 L421.50,180.27 L422.50,181.77 L423.50,183.26 L424.50,184.76 L425.50,186.25 L426.50,187.74 L427.50,189.22 L428.50,190.70 L429.50,192.18 L430.50,193.64 L431.50,195.09 L432.50,196.54 L433.50,197.96 L434.50,199.38 L435.50,200.78 L436.50,202.16 L437.50,203.54 L438.50,204.92 L439.50,206.29 L440.50,207.66 L441.50,209.05 L442.50,210.44 L443.50,211.84 L444.50,213.26 L445.50,214.70 L446.50,216.17 L447.50,217.65 L448.50,219.16 L449.50,220.68 L450.50,222.21 L451.50,223.76 L452.50,225.31 L453.50,226.87 L454.50,228.44 L455.50,230.01 L456.50,231.57 L457.50,233.13 L458.50,234.69 L459.50,236.24 L460.50,237.78 L461.50,239.31 L462.50,240.83 L463.50,242.35 L464.50,243.86 L465.50,245.36 L466.50,246.87 L467.50,248.36 L468.50,249.86 L469.50,251.35 L470.50,252.84 L471.50,254.33 L472.50,255.81 L473.50,257.30 L474.50,258.79 L475.50,260.29 L476.50,261.78 L477.50,263.28 L478.50,264.78 L479.50,266.29 L480.50,267.80 L481.50,269.33 L482.50,270.85 L483.50,272.39 L484.50,273.93 L485.50,275.49 L486.50,277.05 L487.50,278.63 L488.50,280.21 L489.50,281.81 L490.50,283.42 L491.50,285.05 L492.50,286.69 L493.50,288.34 L494.50,290.01 L495.50,291.69 L496.50,293.39 L497.50,295.10 L498.50,296.83 L499.50,298.58 L500.50,300.32 L501.50,302.04 L502.50,303.73 L503.50,305.41 L504.50,307.07 L505.50,308.73 L506.50,310.39 L507.50,312.05 L508.50,313.72 L509.50,315.40 L510.50,317.08 L511.50,318.76 L512.50,320.43 L513.50,322.11 L514.50,323.77 L515.50,325.43 L516.50,327.07 L517.50,328.71 L518.50,330.32 L519.50,331.92 L520.50,333.50 L521.50,335.06 L522.50,336.63 L523.50,338.22 L524.50,339.85 L525.50,341.54 L526.50,343.32 L527.50,345.20 L528.50,347.16 L529.50,349.18 L530.50,351.20 L531.50,353.20 L532.50,355.14 L533.50,356.98 L534.50,358.73 L535.50,360.43 L536.50,362.12 L537.50,363.83 L538.50,365.62 L539.50,367.51 L540.50,369.51 L541.50,371.58 L542.50,373.67 L543.50,375.72 L544.50,377.71 L545.50,379.57 L546.50,381.32 L547.50,382.99 L548.50,384.64 L549.50,386.31 L550.50,388.05 L551.50,389.87 L552.50,391.74 L553.50,393.66 L554.50,395.60 L555.50,397.55 L556.50,399.49 L557.50,401.41 L558.50,403.29 L559.50,405.13 L560.50,406.95 L561.50,408.75 L562.50,410.55 L563.50,412.35 L564.50,414.17 L565.50,416.00 L566.50,417.84 L567.50,419.69 L568.50,421.55 L569.50,423.42 L570.50,425.30 L571.50,427.20 L572.50,429.09 L573.50,431.00 L574.50,432.91 L575.50,434.83 L576.50,436.76 L577.50,438.69 L578.50,440.62 L579.50,442.56 L580.50,444.49 L581.50,446.44 L582.50,448.38 L583.50,450.32 L584.50,452.26 L585.50,454.20 L586.50,456.15 L587.50,458.08 L588.50,460.02 L589.50,461.95 L590.50,463.88 L591.50,465.80 L592.50,467.72 L593.50,469.63 L594.50,471.54 L595.50,473.43 L596.50,475.32 L597.50,477.20 L598.50,479.07 L599.50,480.93 L600.00,481.86"/><path stroke="#D020FF" stroke-dashoffset="16.3" d="M83.10,128.15 L84.10,128.06 L85.10,127.97 L86.10,127.88 L87.10,127.80 L88.10,127.71 L89.10,127.63 L90.10,127.54 L91.10,127.46 L92.10,127.38 L93.10,127.30 L94.10,127.22 L95.10,127.14 L96.10,127.06 L97.10,126.98 L98.10,126.91 L99.10,126.83 L100.10,126.75 L101.10,126.68 L102.10,126.60 L103.10,126.53 L104.10,126.46 L105.10,126.39 L106.10,126.32 L107.10,126.25 L108.10,126.18 L109.10,126.11 L110.10,126.04 L111.10,125.97 L112.10,125.91 L113.10,125.84 L114.10,125.78 L115.10,125.71 L116.10,125.65 L117.10,125.58 L118.10,125.52 L119.10,125.46 L120.10,125.40 L121.10,125.34 L122.10,125.28 L123.10,125.22 L124.10,125.16 L125.10,125.11 L126.10,125.05 L127.10,125.00 L128.10,124.94 L129.10,124.89 L130.10,124.83 L131.10,124.78 L132.10,124.73 L133.10,124.67 L134.10,124.62 L135.10,124.57 L136.10,124.52 L137.10,124.47 L138.10,124.43 L139.10,124.38 L140.10,124.33 L141.10,124.28 L142.10,124.24 L143.10,124.19 L144.10,124.15 L145.10,124.10 L146.10,124.06 L147.10,124.02 L148.10,123.97 L149.10,123.93 L150.10,123.89 L151.10,123.85 L152.10,123.81 L153.10,123.77 L154.10,123.73 L155.10,123.70 L156.10,123.66 L157.10,123.62 L158.10,123.59 L159.10,123.55 L160.10,123.51 L161.10,123.48 L162.10,123.45 L163.10,123.41 L164.10,123.38 L165.10,123.35 L166.10,123.32 L167.10,123.28 L168.10,123.25 L169.10,123.22 L170.10,123.19 L171.10,123.16 L172.10,123.14 L173.10,123.11 L174.10,123.08 L175.10,123.05 L176.10,123.03 L177.10,123.00 L178.10,122.98 L179.10,122.95 L180.10,122.93 L181.10,122.90 L182.10,122.88 L183.10,122.86 L184.10,122.83 L185.10,122.81 L186.10,122.79 L187.10,122.77 L188.10,122.75 L189.10,122.73 L190.10,122.71 L191.10,122.69 L192.10,122.67 L193.10,122.65 L194.10,122.63 L195.10,122.62 L196.10,122.60 L197.10,122.58 L198.10,122.57 L199.10,122.55 L200.10,122.54 L201.10,122.52 L202.10,122.51 L203.10,122.50 L204.10,122.48 L205.10,122.47 L206.10,122.46 L207.10,122.44 L208.10,122.43 L209.10,122.42 L210.10,122.41 L211.10,122.40 L212.10,122.39 L213.10,122.38 L214.10,122.37 L215.10,122.36 L216.10,122.35 L217.10,122.34 L218.10,122.34 L219.10,122.33 L220.10,122.32 L221.10,122.32 L222.10,122.31 L223.10,122.30 L224.10,122.30 L225.10,122.29 L226.10,122.29 L227.10,122.28 L228.10,122.28 L229.10,122.27 L230.10,122.27 L231.10,122.27 L232.10,122.26 L233.10,122.26 L234.10,122.26 L235.10,122.26 L236.10,122.26 L237.10,122.25 L238.10,122.25 L239.10,122.25 L240.10,122.25 L241.10,122.25 L242.10,122.25 L243.10,122.25 L244.10,122.25 L245.10,122.25 L246.10,122.26 L247.10,122.26 L248.10,122.26 L249.10,122.26 L250.10,122.26 L251.10,122.27 L252.10,122.27 L253.10,122.27 L254.10,122.28 L255.10,122.28 L256.10,122.28 L257.10,122.29 L258.10,122.29 L259.10,122.30 L260.10,122.30 L261.10,122.31 L262.10,122.31 L263.10,122.32 L264.10,122.32 L265.10,122.33 L266.10,122.33 L267.10,122.34 L268.10,122.35 L269.10,122.35 L270.10,122.36 L271.10,122.37 L272.10,122.37 L273.10,122.38 L274.10,122.39 L275.10,122.40 L276.10,122.41 L277.10,122.41 L278.10,122.42 L279.10,122.43 L280.10,122.44 L281.10,122.45 L282.10,122.46 L283.10,122.47 L284.10,122.48 L285.10,122.49 L286.10,122.49 L287.10,122.50 L288.10,122.51 L289.10,122.52 L290.10,122.53 L291.10,122.54 L292.10,122.55 L293.10,122.57 L294.10,122.58 L295.10,122.59 L296.10,122.60 L297.10,122.61 L298.10,122.62 L299.10,122.63 L300.10,122.64 L301.10,122.65 L302.10,122.66 L303.10,122.68 L304.10,122.69 L305.10,122.70 L306.10,122.71 L307.10,122.72 L308.10,122.73 L309.10,122.75 L310.10,122.76 L311.10,122.77 L312.10,122.78 L313.10,122.79 L314.10,122.81 L315.10,122.82 L316.10,122.83 L317.10,122.84 L318.10,122.86 L319.10,122.87 L320.10,122.88 L321.10,122.89 L322.10,122.90 L323.10,122.92 L324.10,122.93 L325.10,122.94 L326.10,122.95 L327.10,122.97 L328.10,122.98 L329.10,122.99 L330.10,123.00 L331.10,123.02 L332.10,123.03 L333.10,123.04 L334.10,123.05 L335.10,123.07 L336.10,123.08 L337.10,123.09 L338.10,123.10 L339.10,123.12 L340.10,123.13 L341.10,123.14 L342.10,123.16 L343.10,123.17 L344.10,123.18 L345.10,123.20 L346.10,123.21 L347.10,123.22 L348.10,123.24 L349.10,123.25 L350.10,123.27 L351.10,123.28 L352.10,123.30 L353.10,123.31 L354.10,123.33 L355.10,123.34 L356.10,123.36 L357.10,123.37 L358.10,123.39 L359.10,123.41 L360.10,123.42 L361.10,123.44 L362.10,123.46 L363.10,123.48 L364.10,123.49 L365.10,123.51 L366.10,123.53 L367.10,123.55 L368.10,123.57 L369.10,123.59 L370.10,123.61 L371.10,123.63 L372.10,123.65 L373.10,123.67 L374.10,123.70 L375.10,123.72 L376.10,123.74 L377.10,123.76 L378.10,123.79 L379.10,123.81 L380.10,123.84 L381.10,123.86 L382.10,123.89 L383.10,123.92 L384.10,123.95 L385.10,123.98 L386.10,124.01 L387.10,124.05 L388.10,124.10 L389.10,124.15 L390.10,124.21 L391.10,124.27 L392.10,124.34 L393.10,124.43 L394.10,124.52 L395.10,124.62 L396.10,124.73 L397.10,124.85 L398.10,124.98 L399.10,125.13 L400.10,125.29 L401.10,125.47 L402.10,125.66 L403.10,125.86 L404.10,126.09 L405.10,126.33 L406.10,126.58 L407.10,126.86 L408.10,127.16 L409.10,127.47 L410.10,127.81 L411.10,128.17 L412.10,128.55 L413.10,128.97 L414.10,129.45 L415.10,130.01 L416.10,130.66 L417.10,131.43 L418.10,132.33 L419.10,133.38 L420.10,134.59 L421.10,135.92 L422.10,137.34 L423.10,138.82 L424.10,140.33 L425.10,141.84 L426.10,143.37 L427.10,144.90 L428.10,146.45 L429.10,147.99 L430.10,149.54 L431.10,151.09 L432.10,152.64 L433.10,154.20 L434.10,155.75 L435.10,157.33 L436.10,158.93 L437.10,160.59 L438.10,162.30 L439.10,164.08 L440.10,165.91 L441.10,167.77 L442.10,169.65 L443.10,171.53 L444.10,173.40 L445.10,175.22 L446.10,177.00 L447.10,178.73 L448.10,180.43 L449.10,182.10 L450.10,183.77 L451.10,185.43 L452.10,187.09 L453.10,188.75 L454.10,190.41 L455.10,192.07 L456.10,193.73 L457.10,195.39 L458.10,197.05 L459.10,198.71 L460.10,200.37 L461.10,202.04 L462.10,203.70 L463.10,205.36 L464.10,207.02 L465.10,208.69 L466.10,210.35 L467.10,212.02 L468.10,213.69 L469.10,215.36 L470.10,217.03 L471.10,218.70 L472.10,220.37 L473.10,222.05 L474.10,223.73 L475.10,225.41 L476.10,227.09 L477.10,228.78 L478.10,230.47 L479.10,232.16 L480.10,233.86 L481.10,235.55 L482.10,237.26 L483.10,238.96 L484.10,240.67 L485.10,242.38 L486.10,244.10 L487.10,245.82 L488.10,247.54 L489.10,249.27 L490.10,251.00 L491.10,252.74 L492.10,254.48 L493.10,256.23 L494.10,257.97 L495.10,259.73 L496.10,261.48 L497.10,263.24 L498.10,265.01 L499.10,266.77 L500.10,268.54 L501.10,270.31 L502.10,272.08 L503.10,273.86 L504.10,275.63 L505.10,277.41 L506.10,279.18 L507.10,280.96 L508.10,282.74 L509.10,284.52 L510.10,286.29 L511.10,288.07 L512.10,289.84 L513.10,291.62 L514.10,293.39 L515.10,295.16 L516.10,296.93 L517.10,298.70 L518.10,300.47 L519.10,302.24 L520.10,304.01 L521.10,305.78 L522.10,307.55 L523.10,309.33 L524.10,311.11 L525.10,312.90 L526.10,314.70 L527.10,316.50 L528.10,318.31 L529.10,320.13 L530.10,321.96 L531.10,323.81 L532.10,325.66 L533.10,327.53 L534.10,329.42 L535.10,331.31 L536.10,333.23 L537.10,335.15 L538.10,337.06 L539.10,338.95 L540.10,340.80 L541.10,342.59 L542.10,344.33 L543.10,346.03 L544.10,347.69 L545.10,349.33 L546.10,350.97 L547.10,352.63 L548.10,354.31 L549.10,356.03 L550.10,357.78 L551.10,359.57 L552.10,361.38 L553.10,363.22 L554.10,365.07 L555.10,366.94 L556.10,368.82 L557.10,370.71 L558.10,372.60 L559.10,374.49 L560.10,376.36 L561.10,378.24 L562.10,380.10 L563.10,381.95 L564.10,383.79 L565.10,385.63 L566.10,387.46 L567.10,389.29 L568.10,391.11 L569.10,392.93 L570.10,394.74 L571.10,396.55 L572.10,398.36 L573.10,400.17 L574.10,401.98 L575.10,403.79 L576.10,405.60 L577.10,407.41 L578.10,409.22 L579.10,411.04 L580.10,412.86 L581.10,414.69 L582.10,416.52 L583.10,418.35 L584.10,420.19 L585.10,422.03 L586.10,423.88 L587.10,425.73 L588.10,427.58 L589.10,429.44 L590.10,431.30 L591.10,433.17 L592.10,435.04 L593.10,436.91 L594.10,438.79 L595.10,440.68 L596.10,442.57 L597.10,444.46 L598.10,446.36 L599.10,448.27 L600.10,450.18 L601.10,452.09 L602.10,454.01 L603.10,455.93 L604.10,457.86 L605.10,459.80 L606.10,461.73 L607.10,463.68 L608.10,465.63 L609.10,467.58 L610.10,469.54 L611.10,471.51 L612.10,473.48 L613.10,475.46 L614.10,477.44 L615.10,479.43 L616.10,481.42 L616.30,481.82"/><path stroke="#000000" stroke-dashoffset="1.8" d="M83.10,150.35 L84.10,150.35 L85.10,150.36 L86.10,150.36 L87.10,150.36 L88.10,150.37 L89.10,150.37 L90.10,150.37 L91.10,150.38 L92.10,150.38 L93.10,150.38 L94.10,150.38 L95.10,150.39 L96.10,150.39 L97.10,150.39 L98.10,150.39 L99.10,150.39 L100.10,150.39 L101.10,150.39 L102.10,150.39 L103.10,150.39 L104.10,150.39 L105.10,150.39 L106.10,150.39 L107.10,150.39 L108.10,150.39 L109.10,150.38 L110.10,150.38 L111.10,150.38 L112.10,150.38 L113.10,150.37 L114.10,150.37 L115.10,150.37 L116.10,150.36 L117.10,150.36 L118.10,150.36 L119.10,150.35 L120.10,150.35 L121.10,150.34 L122.10,150.34 L123.10,150.33 L124.10,150.33 L125.10,150.32 L126.10,150.32 L127.10,150.31 L128.10,150.31 L129.10,150.30 L130.10,150.30 L131.10,150.29 L132.10,150.28 L133.10,150.28 L134.10,150.27 L135.10,150.26 L136.10,150.26 L137.10,150.25 L138.10,150.24 L139.10,150.23 L140.10,150.23 L141.10,150.22 L142.10,150.21 L143.10,150.20 L144.10,150.20 L145.10,150.19 L146.10,150.18 L147.10,150.17 L148.10,150.16 L149.10,150.15 L150.10,150.14 L151.10,150.14 L152.10,150.13 L153.10,150.12 L154.10,150.11 L155.10,150.10 L156.10,150.09 L157.10,150.08 L158.10,150.07 L159.10,150.06 L160.10,150.05 L161.10,150.04 L162.10,150.03 L163.10,150.02 L164.10,150.01 L165.10,150.00 L166.10,149.99 L167.10,149.98 L168.10,149.97 L169.10,149.96 L170.10,149.95 L171.10,149.94 L172.10,149.93 L173.10,149.92 L174.10,149.91 L175.10,149.90 L176.10,149.89 L177.10,149.88 L178.10,149.87 L179.10,149.86 L180.10,149.85 L181.10,149.84 L182.10,149.83 L183.10,149.82 L184.10,149.81 L185.10,149.80 L186.10,149.79 L187.10,149.78 L188.10,149.77 L189.10,149.76 L190.10,149.75 L191.10,149.74 L192.10,149.73 L193.10,149.72 L194.10,149.71 L195.10,149.70 L196.10,149.69 L197.10,149.68 L198.10,149.67 L199.10,149.66 L200.10,149.65 L201.10,149.64 L202.10,149.63 L203.10,149.62 L204.10,149.61 L205.10,149.60 L206.10,149.60 L207.10,149.59 L208.10,149.58 L209.10,149.57 L210.10,149.56 L211.10,149.55 L212.10,149.54 L213.10,149.53 L214.10,149.53 L215.10,149.52 L216.10,149.51 L217.10,149.50 L218.10,149.49 L219.10,149.49 L220.10,149.48 L221.10,149.47 L222.10,149.46 L223.10,149.46 L224.10,149.45 L225.10,149.44 L226.10,149.43 L227.10,149.43 L228.10,149.42 L229.10,149.41 L230.10,149.41 L231.10,149.40 L232.10,149.40 L233.10,149.39 L234.10,149.39 L235.10,149.38 L236.10,149.38 L237.10,149.37 L238.10,149.37 L239.10,149.36 L240.10,149.36 L241.10,149.35 L242.10,149.35 L243.10,149.34 L244.10,149.34 L245.10,149.34 L246.10,149.33 L247.10,149.33 L248.10,149.33 L249.10,149.33 L250.10,149.32 L251.10,149.32 L252.10,149.32 L253.10,149.32 L254.10,149.32 L255.10,149.32 L256.10,149.31 L257.10,149.31 L258.10,149.31 L259.10,149.31 L260.10,149.31 L261.10,149.31 L262.10,149.31 L263.10,149.32 L264.10,149.32 L265.10,149.32 L266.10,149.32 L267.10,149.32 L268.10,149.32 L269.10,149.33 L270.10,149.33 L271.10,149.33 L272.10,149.34 L273.10,149.34 L274.10,149.34 L275.10,149.35 L276.10,149.35 L277.10,149.36 L278.10,149.36 L279.10,149.37 L280.10,149.38 L281.10,149.38 L282.10,149.39 L283.10,149.40 L284.10,149.40 L285.10,149.41 L286.10,149.42 L287.10,149.43 L288.10,149.44 L289.10,149.45 L290.10,149.46 L291.10,149.46 L292.10,149.48 L293.10,149.49 L294.10,149.50 L295.10,149.51 L296.10,149.52 L297.10,149.53 L298.10,149.54 L299.10,149.56 L300.10,149.57 L301.10,149.58 L302.10,149.60 L303.10,149.61 L304.10,149.63 L305.10,149.64 L306.10,149.66 L307.10,149.67 L308.10,149.69 L309.10,149.71 L310.10,149.72 L311.10,149.74 L312.10,149.76 L313.10,149.78 L314.10,149.80 L315.10,149.82 L316.10,149.84 L317.10,149.86 L318.10,149.88 L319.10,149.90 L320.10,149.92 L321.10,149.94 L322.10,149.97 L323.10,149.99 L324.10,150.01 L325.10,150.04 L326.10,150.06 L327.10,150.09 L328.10,150.11 L329.10,150.14 L330.10,150.17 L331.10,150.19 L332.10,150.22 L333.10,150.25 L334.10,150.28 L335.10,150.30 L336.10,150.33 L337.10,150.36 L338.10,150.39 L339.10,150.43 L340.10,150.46 L341.10,150.49 L342.10,150.52 L343.10,150.56 L344.10,150.59 L345.10,150.62 L346.10,150.66 L347.10,150.69 L348.10,150.73 L349.10,150.76 L350.10,150.80 L351.10,150.83 L352.10,150.87 L353.10,150.90 L354.10,150.94 L355.10,150.97 L356.10,151.01 L357.10,151.04 L358.10,151.08 L359.10,151.12 L360.10,151.15 L361.10,151.19 L362.10,151.22 L363.10,151.25 L364.10,151.29 L365.10,151.32 L366.10,151.36 L367.10,151.40 L368.10,151.44 L369.10,151.49 L370.10,151.55 L371.10,151.62 L372.10,151.71 L373.10,151.81 L374.10,151.93 L375.10,152.07 L376.10,152.23 L377.10,152.41 L378.10,152.63 L379.10,152.87 L380.10,153.14 L381.10,153.44 L382.10,153.78 L383.10,154.16 L384.10,154.57 L385.10,155.02 L386.10,155.51 L387.10,156.04 L388.10,156.60 L389.10,157.20 L390.10,157.83 L391.10,158.51 L392.10,159.21 L393.10,159.96 L394.10,160.74 L395.10,161.56 L396.10,162.42 L397.10,163.32 L398.10,164.25 L399.10,165.22 L400.10,166.22 L401.10,167.26 L402.10,168.34 L403.10,169.45 L404.10,170.60 L405.10,171.79 L406.10,173.00 L407.10,174.24 L408.10,175.51 L409.10,176.81 L410.10,178.13 L411.10,179.47 L412.10,180.84 L413.10,182.22 L414.10,183.62 L415.10,185.04 L416.10,186.48 L417.10,187.92 L418.10,189.38 L419.10,190.85 L420.10,192.32 L421.10,193.79 L422.10,195.25 L423.10,196.70 L424.10,198.13 L425.10,199.54 L426.10,200.92 L427.10,202.27 L428.10,203.63 L429.10,205.01 L430.10,206.45 L431.10,207.95 L432.10,209.50 L433.10,211.08 L434.10,212.69 L435.10,214.32 L436.10,215.97 L437.10,217.61 L438.10,219.25 L439.10,220.87 L440.10,222.47 L441.10,224.05 L442.10,225.61 L443.10,227.15 L444.10,228.69 L445.10,230.21 L446.10,231.73 L447.10,233.24 L448.10,234.76 L449.10,236.28 L450.10,237.81 L451.10,239.34 L452.10,240.89 L453.10,242.45 L454.10,244.04 L455.10,245.63 L456.10,247.24 L457.10,248.86 L458.10,250.49 L459.10,252.14 L460.10,253.78 L461.10,255.44 L462.10,257.09 L463.10,258.75 L464.10,260.41 L465.10,262.06 L466.10,263.72 L467.10,265.37 L468.10,267.01 L469.10,268.65 L470.10,270.27 L471.10,271.89 L472.10,273.49 L473.10,275.07 L474.10,276.65 L475.10,278.21 L476.10,279.77 L477.10,281.33 L478.10,282.90 L479.10,284.47 L480.10,286.05 L481.10,287.66 L482.10,289.28 L483.10,290.93 L484.10,292.61 L485.10,294.33 L486.10,296.09 L487.10,297.88 L488.10,299.71 L489.10,301.55 L490.10,303.39 L491.10,305.20 L492.10,306.96 L493.10,308.67 L494.10,310.30 L495.10,311.85 L496.10,313.33 L497.10,314.76 L498.10,316.16 L499.10,317.55 L500.10,318.94 L501.10,320.34 L502.10,321.78 L503.10,323.26 L504.10,324.81 L505.10,326.45 L506.10,328.18 L507.10,330.02 L508.10,331.95 L509.10,333.94 L510.10,335.97 L511.10,337.99 L512.10,339.97 L513.10,341.90 L514.10,343.76 L515.10,345.56 L516.10,347.31 L517.10,349.01 L518.10,350.68 L519.10,352.32 L520.10,353.93 L521.10,355.53 L522.10,357.12 L523.10,358.71 L524.10,360.31 L525.10,361.91 L526.10,363.54 L527.10,365.19 L528.10,366.87 L529.10,368.56 L530.10,370.28 L531.10,372.01 L532.10,373.75 L533.10,375.51 L534.10,377.28 L535.10,379.06 L536.10,380.84 L537.10,382.63 L538.10,384.42 L539.10,386.22 L540.10,388.01 L541.10,389.80 L542.10,391.60 L543.10,393.39 L544.10,395.19 L545.10,396.99 L546.10,398.79 L547.10,400.59 L548.10,402.39 L549.10,404.20 L550.10,406.01 L551.10,407.83 L552.10,409.65 L553.10,411.47 L554.10,413.30 L555.10,415.13 L556.10,416.97 L557.10,418.81 L558.10,420.66 L559.10,422.52 L560.10,424.38 L561.10,426.25 L562.10,428.13 L563.10,430.01 L564.10,431.91 L565.10,433.81 L566.10,435.72 L567.10,437.64 L568.10,439.57 L569.10,441.50 L570.10,443.45 L571.10,445.41 L572.10,447.38 L573.10,449.36 L574.10,451.35 L575.10,453.36 L576.10,455.38 L577.10,457.41 L578.10,459.46 L579.10,461.53 L580.10,463.62 L581.10,465.74 L582.10,467.89 L583.10,470.07 L584.10,472.28 L585.10,474.53 L586.10,476.81 L587.10,479.03 L588.10,480.97 L588.90,482.10"/></g><path d="M91.6,329.90 L127.3,329.90" stroke="#FF8C0A" stroke-width="3.2" stroke-linecap="round" fill="none" stroke-dasharray="10.5 7.0 0.7 7.5"/><path d="M91.6,354.05 L127.3,354.05" stroke="#D020FF" stroke-width="3.2" stroke-linecap="round" fill="none" stroke-dasharray="10.5 7.0 0.7 7.5"/><path d="M91.6,378.20 L127.3,378.20" stroke="#006400" stroke-width="3.2" stroke-linecap="round" fill="none" stroke-dasharray="10.5 7.0 0.7 7.5"/><path d="M91.6,402.35 L127.3,402.35" stroke="#FF0000" stroke-width="3.2" stroke-linecap="round" fill="none" stroke-dasharray="10.5 7.0 0.7 7.5"/><path d="M91.6,426.50 L127.3,426.50" stroke="#0000FF" stroke-width="3.2" stroke-linecap="round" fill="none" stroke-dasharray="10.5 7.0 0.7 7.5"/><path d="M91.6,450.65 L127.3,450.65" stroke="#000000" stroke-width="3.2" stroke-linecap="round" fill="none" stroke-dasharray="10.5 7.0 0.7 7.5"/><defs><filter id="gs" filterUnits="userSpaceOnUse" x="0" y="0" width="685" height="551"><feColorMatrix type="saturate" values="0"/></filter></defs><g font-family="&quot;Liberation Serif&quot;, serif" font-weight="bold" fill="#000" stroke="#000" stroke-width="0.4" style="font-kerning:none" filter="url(#gs)"><text x="55.10" y="488.71" font-size="23.5">0</text><text x="54.83" y="429.53" font-size="23.5">3</text><text x="54.71" y="370.39" font-size="23.5">6</text><text x="54.96" y="311.10" font-size="23.5">9</text><text x="43.32" y="252.10" font-size="23.5">12</text><text x="43.20" y="193.95" font-size="23.5">15</text><text x="43.15" y="134.80" font-size="23.5">18</text><text x="43.79" y="75.63" font-size="23.5">21</text><text x="43.07" y="15.97" font-size="23.5">24</text><text x="67.42" y="514.99" font-size="23.5">0.0</text><text x="141.22" y="515.00" font-size="23.5">0.1</text><text x="214.36" y="514.87" font-size="23.5">0.2</text><text x="287.58" y="514.98" font-size="23.5">0.3</text><text x="361.04" y="515.00" font-size="23.5">0.4</text><text x="434.61" y="515.08" font-size="23.5">0.5</text><text x="507.79" y="515.00" font-size="23.5">0.6</text><text x="581.15" y="515.00" font-size="23.5">0.7</text><text x="654.61" y="515.01" font-size="23.5">0.8</text><text x="313.96" y="545.42" font-size="21.5" textLength="93.69" lengthAdjust="spacingAndGlyphs">Voltage/V</text><text x="139.63" y="335.60" font-size="18.4" textLength="352.46" lengthAdjust="spacingAndGlyphs">BAM-3+BAM-4 (Bottom)+Black Dye (Top)</text><text x="139.63" y="359.72" font-size="18.4" textLength="154.04" lengthAdjust="spacingAndGlyphs">BAM-1+Black Dye</text><text x="139.63" y="383.84" font-size="18.4" textLength="154.04" lengthAdjust="spacingAndGlyphs">BAM-2+Black Dye</text><text x="139.63" y="407.96" font-size="18.4" textLength="158.06" lengthAdjust="spacingAndGlyphs">BAM-3+ Black Dye</text><text x="139.63" y="432.08" font-size="18.4" textLength="154.04" lengthAdjust="spacingAndGlyphs">BAM-4+Black Dye</text><text x="139.63" y="456.20" font-size="18.4" textLength="82.87" lengthAdjust="spacingAndGlyphs">Black Dye</text><text transform="translate(26.60,356.38) rotate(-90)" font-size="24.5" textLength="152.26" lengthAdjust="spacingAndGlyphs">Current/mA.cm</text><text transform="translate(17.50,203.98) rotate(-90)" font-size="24.5" textLength="17.80" lengthAdjust="spacingAndGlyphs">-2</text></g></svg>
</body></html>
